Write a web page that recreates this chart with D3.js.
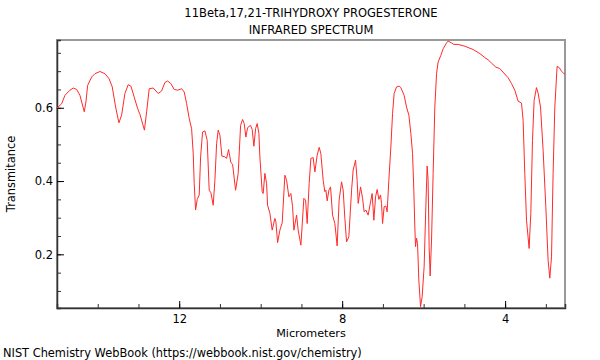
<!DOCTYPE html>
<html><head><meta charset="utf-8">
<script src="https://cdn.jsdelivr.net/npm/d3@7"></script>
<style>body{margin:0;background:#fff}svg{display:block}text{font-family:"DejaVu Sans",sans-serif;fill:#000}</style>
</head><body><svg id="c" width="600" height="360"></svg>
<script>
const titleLines = ["11Beta,17,21-TRIHYDROXY PROGESTERONE", "INFRARED SPECTRUM"];
const xLabel = "Micrometers";
const yLabel = "Transmitance";
const footer = "NIST Chemistry WebBook (https://webbook.nist.gov/chemistry)";
const xTickLabels = [12, 8, 4];
const yTickLabels = [0.2, 0.4, 0.6];

const micrometers = [15.009,14.886,14.805,14.682,14.601,14.518,14.437,14.331,14.290,14.248,14.150,14.069,13.946,13.823,13.725,13.644,13.561,13.480,13.414,13.333,13.252,13.185,13.104,13.021,12.964,12.854,12.800,12.736,12.638,12.515,12.432,12.351,12.285,12.204,12.123,12.039,11.941,11.877,11.818,11.755,11.696,11.656,11.632,11.598,11.558,11.509,11.475,11.426,11.369,11.313,11.264,11.222,11.166,11.124,11.082,11.043,11.001,10.952,10.879,10.837,10.788,10.731,10.690,10.616,10.552,10.493,10.444,10.405,10.363,10.321,10.248,10.209,10.167,10.125,10.086,10.044,10.020,9.963,9.939,9.897,9.855,9.831,9.774,9.718,9.652,9.627,9.585,9.529,9.472,9.406,9.364,9.308,9.259,9.217,9.185,9.119,9.080,9.013,8.940,8.898,8.859,8.810,8.768,8.712,8.670,8.613,8.564,8.523,8.466,8.425,8.400,8.368,8.326,8.285,8.236,8.179,8.123,8.074,8.015,7.975,7.934,7.892,7.836,7.769,7.730,7.671,7.632,7.607,7.548,7.499,7.460,7.418,7.362,7.303,7.264,7.222,7.180,7.141,7.099,7.058,7.033,7.009,6.969,6.928,6.896,6.854,6.805,6.763,6.724,6.665,6.601,6.560,6.479,6.420,6.363,6.314,6.272,6.241,6.216,6.199,6.174,6.150,6.118,6.076,6.037,5.988,5.946,5.914,5.890,5.865,5.840,5.806,5.767,5.725,5.683,5.644,5.578,5.521,5.438,5.399,5.315,5.259,5.153,4.989,4.785,4.621,4.498,4.417,4.334,4.228,4.130,4.032,3.926,3.843,3.762,3.681,3.598,3.558,3.517,3.475,3.411,3.369,3.328,3.288,3.230,3.190,3.131,3.067,3.001,2.945,2.903,2.861,2.822,2.780,2.724,2.675,2.616,2.535];
const transmittance = [0.598,0.611,0.634,0.648,0.654,0.650,0.634,0.589,0.616,0.661,0.684,0.693,0.699,0.693,0.680,0.657,0.602,0.559,0.580,0.639,0.663,0.659,0.629,0.598,0.582,0.539,0.589,0.652,0.654,0.639,0.646,0.669,0.673,0.666,0.650,0.648,0.652,0.643,0.611,0.571,0.543,0.475,0.393,0.321,0.350,0.362,0.466,0.534,0.537,0.511,0.375,0.368,0.334,0.402,0.502,0.539,0.525,0.468,0.466,0.462,0.486,0.450,0.446,0.375,0.421,0.552,0.568,0.557,0.520,0.546,0.552,0.541,0.495,0.543,0.557,0.530,0.466,0.371,0.366,0.421,0.393,0.334,0.312,0.266,0.298,0.289,0.232,0.266,0.286,0.416,0.402,0.357,0.366,0.330,0.266,0.307,0.266,0.225,0.353,0.348,0.284,0.393,0.462,0.464,0.425,0.471,0.492,0.475,0.402,0.371,0.375,0.346,0.375,0.384,0.307,0.284,0.223,0.348,0.398,0.375,0.298,0.234,0.248,0.375,0.430,0.457,0.402,0.339,0.384,0.353,0.316,0.321,0.307,0.343,0.366,0.293,0.357,0.377,0.350,0.362,0.339,0.284,0.330,0.332,0.316,0.402,0.493,0.584,0.639,0.657,0.659,0.655,0.634,0.602,0.580,0.530,0.475,0.375,0.275,0.221,0.244,0.230,0.130,0.057,0.084,0.166,0.330,0.441,0.402,0.221,0.141,0.239,0.421,0.602,0.693,0.725,0.743,0.761,0.777,0.782,0.777,0.773,0.773,0.768,0.759,0.748,0.737,0.731,0.722,0.711,0.707,0.695,0.682,0.666,0.648,0.618,0.613,0.566,0.421,0.293,0.216,0.312,0.511,0.620,0.655,0.640,0.602,0.484,0.330,0.184,0.135,0.193,0.421,0.602,0.713,0.710,0.700,0.691];

const W = 600, H = 360;
const m = {left: 57, top: 40, right: 35, bottom: 52};
const iw = W - m.left - m.right, ih = H - m.top - m.bottom;
const svg = d3.select("#c");
const x = d3.scaleLinear().domain([15.0, 2.53]).range([0, iw]);
const y = d3.scaleLinear().domain([0.0535, 0.785]).range([ih, 0]);
const g = svg.append("g").attr("transform", `translate(${m.left},${m.top})`);

// frame
g.append("rect").attr("x", 0).attr("y", 0).attr("width", iw).attr("height", ih)
  .attr("fill", "none").attr("stroke", "#999").attr("stroke-width", 2);

// x axis (ticks inward)
const xMinor = d3.range(3, 15);
g.append("g").attr("transform", `translate(0,${ih})`)
  .call(d3.axisTop(x).tickValues(xMinor).tickSize(4).tickFormat(""))
  .call(a => a.select(".domain").attr("stroke", "#333").attr("stroke-width", 1.5))
  .call(a => a.selectAll(".tick line").attr("stroke", "#333"));
g.append("g").attr("transform", `translate(0,${ih})`)
  .call(d3.axisTop(x).tickValues(xTickLabels).tickSize(7).tickFormat(""))
  .call(a => a.select(".domain").remove())
  .call(a => a.selectAll(".tick line").attr("stroke", "#000"));
g.append("g").attr("transform", `translate(0,${ih})`)
  .call(d3.axisBottom(x).tickValues(xTickLabels).tickSize(0).tickPadding(7).tickFormat(d3.format("d")))
  .call(a => a.select(".domain").remove())
  .call(a => a.selectAll("text").attr("font-size", 11.5).attr("font-family", "DejaVu Sans"));

// y axis
const yMinor = d3.range(0.1, 0.76, 0.05);
g.append("g")
  .call(d3.axisRight(y).tickValues(yMinor).tickSize(4).tickFormat(""))
  .call(a => a.select(".domain").attr("stroke", "#333").attr("stroke-width", 1.5))
  .call(a => a.selectAll(".tick line").attr("stroke", "#333"));
g.append("g")
  .call(d3.axisRight(y).tickValues(yTickLabels).tickSize(7).tickFormat(""))
  .call(a => a.select(".domain").remove());
g.append("g")
  .call(d3.axisLeft(y).tickValues(yTickLabels).tickSize(0).tickPadding(4).tickFormat(d3.format(".1f")))
  .call(a => a.select(".domain").remove())
  .call(a => a.selectAll("text").attr("font-size", 11.5).attr("font-family", "DejaVu Sans"));

// spectrum
const data = micrometers.map((d, i) => ({x: d, y: transmittance[i]}));
g.append("path").datum(data)
  .attr("fill", "none").attr("stroke", "#ff2a2a").attr("stroke-width", 1)
  .attr("d", d3.line().x(d => x(d.x)).y(d => y(d.y)));

// texts
svg.append("text").attr("x", m.left + iw / 2).attr("y", 17).attr("text-anchor", "middle")
  .attr("font-size", 11.5).text(titleLines[0]);
svg.append("text").attr("x", m.left + iw / 2).attr("y", 34).attr("text-anchor", "middle")
  .attr("font-size", 11.5).text(titleLines[1]);
svg.append("text").attr("x", m.left + iw / 2).attr("y", 337).attr("text-anchor", "middle")
  .attr("font-size", 11.2).text(xLabel);
svg.append("text").attr("transform", `translate(15,${m.top + ih / 2}) rotate(-90)`)
  .attr("text-anchor", "middle").attr("font-size", 11.4).text(yLabel);
svg.append("text").attr("x", 3).attr("y", 357).attr("font-size", 11.4).text(footer);
</script></body></html>
